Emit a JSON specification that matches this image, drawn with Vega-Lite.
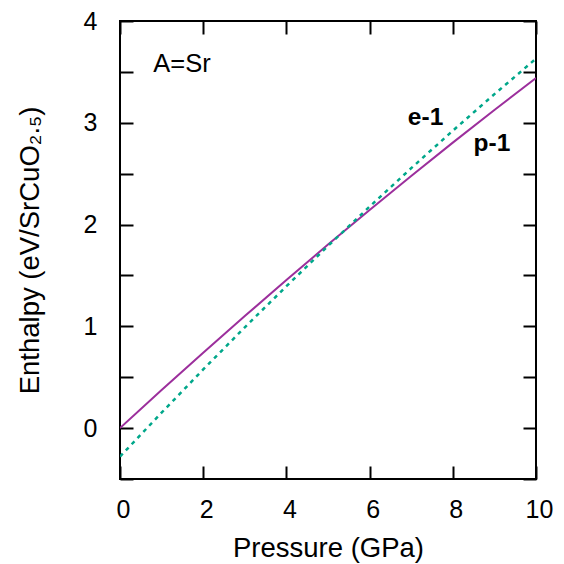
{
  "$schema": "https://vega.github.io/schema/vega-lite/v6.json",
  "width": 416,
  "height": 458,
  "autosize": "none",
  "padding": {"left": 120, "top": 21, "right": 28, "bottom": 85},
  "background": "white",
  "config": {
    "view": {"stroke": "black", "strokeWidth": 2},
    "font": "Liberation Sans",
    "axis": {
      "grid": false,
      "domain": false,
      "tickColor": "black",
      "tickWidth": 2,
      "tickSize": -13,
      "labelColor": "black",
      "titleColor": "black",
      "labelFont": "Liberation Sans",
      "titleFont": "Liberation Sans",
      "labelFontSize": 25,
      "labelFlush": false,
      "titleFontSize": 27.5,
      "titleFontWeight": "normal"
    }
  },
  "datasets": {
    "p1": [
      {"P": 0, "H": 0},
      {"P": 1, "H": 0.374},
      {"P": 2, "H": 0.741},
      {"P": 3, "H": 1.101},
      {"P": 4, "H": 1.455},
      {"P": 5, "H": 1.803},
      {"P": 6, "H": 2.143},
      {"P": 7, "H": 2.477},
      {"P": 8, "H": 2.805},
      {"P": 9, "H": 3.126},
      {"P": 10, "H": 3.44}
    ],
    "e1": [
      {"P": 0, "H": -0.28},
      {"P": 1, "H": 0.152},
      {"P": 2, "H": 0.576},
      {"P": 3, "H": 0.99},
      {"P": 4, "H": 1.394},
      {"P": 5, "H": 1.79},
      {"P": 6, "H": 2.176},
      {"P": 7, "H": 2.554},
      {"P": 8, "H": 2.922},
      {"P": 9, "H": 3.281},
      {"P": 10, "H": 3.63}
    ]
  },
  "layer": [
    {
      "data": {"name": "p1"},
      "mark": {"type": "line", "color": "#9c2f9c", "strokeWidth": 2, "clip": true},
      "encoding": {
        "x": {
          "field": "P", "type": "quantitative",
          "scale": {"domain": [0, 10], "nice": false, "zero": false},
          "axis": {"orient": "bottom", "values": [0, 2, 4, 6, 8, 10], "title": "Pressure (GPa)", "labelPadding": 31, "labelOffset": 3, "titlePadding": 12}
        },
        "y": {
          "field": "H", "type": "quantitative",
          "scale": {"domain": [-0.5, 4], "nice": false, "zero": false},
          "axis": {"orient": "left", "values": [-0.5, 0, 0.5, 1, 1.5, 2, 2.5, 3, 3.5, 4], "labelExpr": "datum.value % 1 === 0 ? format(datum.value, 'd') : ''", "title": "Enthalpy (eV/SrCuO₂.₅)", "labelPadding": 36, "titlePadding": 39}
        }
      }
    },
    {
      "data": {"name": "e1"},
      "mark": {"type": "line", "color": "#00a78a", "strokeWidth": 2.5, "strokeDash": [4, 4.5], "strokeCap": "butt", "clip": true},
      "encoding": {
        "x": {
          "field": "P", "type": "quantitative",
          "axis": {"orient": "top", "values": [0, 2, 4, 6, 8, 10], "labels": false, "title": null}
        },
        "y": {
          "field": "H", "type": "quantitative",
          "axis": {"orient": "right", "values": [-0.5, 0, 0.5, 1, 1.5, 2, 2.5, 3, 3.5, 4], "labels": false, "title": null}
        }
      }
    },
    {
      "data": {"values": [{"label": "A=Sr", "P": 0.8, "H": 3.5}]},
      "mark": {"type": "text", "align": "left", "baseline": "alphabetic", "fontSize": 25.5, "font": "Liberation Sans", "color": "black"},
      "encoding": {
        "text": {"field": "label"},
        "x": {"field": "P", "type": "quantitative", "axis": null},
        "y": {"field": "H", "type": "quantitative", "axis": null}
      }
    },
    {
      "data": {"values": [{"label": "e-1", "P": 6.92, "H": 2.98}, {"label": "p-1", "P": 8.5, "H": 2.72}]},
      "mark": {"type": "text", "align": "left", "baseline": "alphabetic", "fontSize": 24.5, "fontWeight": "bold", "font": "Liberation Sans", "color": "black"},
      "encoding": {
        "text": {"field": "label"},
        "x": {"field": "P", "type": "quantitative", "axis": null},
        "y": {"field": "H", "type": "quantitative", "axis": null}
      }
    }
  ]
}
